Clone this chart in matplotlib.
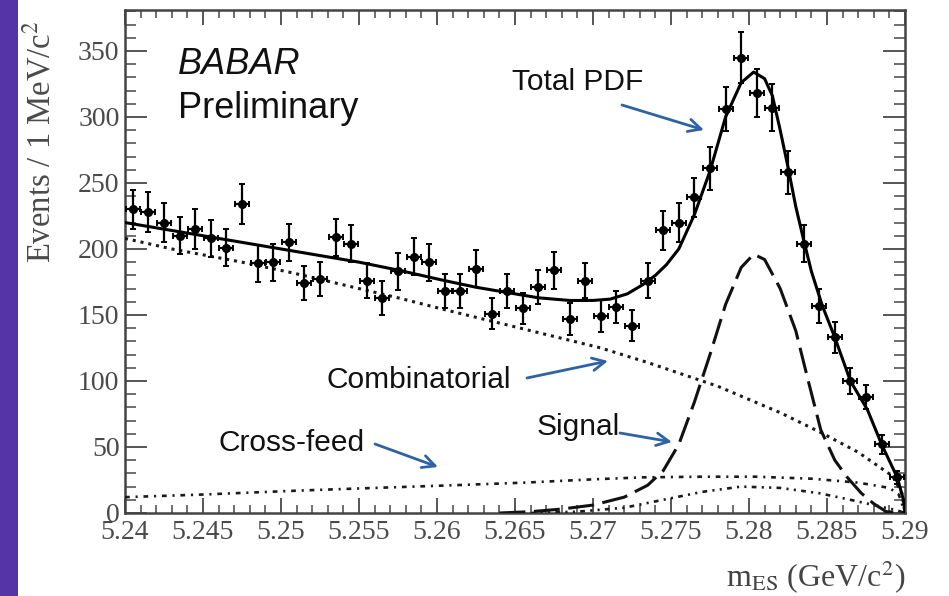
import numpy as np
import matplotlib
matplotlib.use("Agg")
import matplotlib.pyplot as plt
from matplotlib.ticker import MultipleLocator, FixedLocator

plt.rcParams['mathtext.fontset'] = 'stix'

# ---- data ----
bin_centers = [5.2405, 5.2415, 5.2425, 5.2435, 5.2445, 5.2455, 5.2465, 5.2475, 5.2485, 5.2495,
               5.2505, 5.2515, 5.2525, 5.2535, 5.2545, 5.2555, 5.2565, 5.2575, 5.2585, 5.2595,
               5.2605, 5.2615, 5.2625, 5.2635, 5.2645, 5.2655, 5.2665, 5.2675, 5.2685, 5.2695,
               5.2705, 5.2715, 5.2725, 5.2735, 5.2745, 5.2755, 5.2765, 5.2775, 5.2785, 5.2795,
               5.2805, 5.2815, 5.2825, 5.2835, 5.2845, 5.2855, 5.2865, 5.2875, 5.2885, 5.2895]
events = [230, 228, 220, 210, 215, 208, 201, 234, 189, 190,
          205, 174, 177, 209, 204, 176, 163, 183, 194, 190,
          168, 168, 185, 151, 168, 155, 171, 184, 147, 176,
          149, 156, 142, 176, 214, 220, 239, 261, 306, 345,
          318, 307, 258, 204, 157, 133, 100, 88, 52, 27]
event_errors = [15, 15, 15, 14, 15, 14, 14, 15, 14, 14,
                14, 13, 13, 14, 14, 13, 13, 14, 14, 14,
                13, 13, 14, 12, 13, 12, 13, 14, 12, 13,
                12, 12, 12, 13, 15, 15, 15, 16, 17, 19,
                18, 18, 16, 14, 13, 12, 10, 9, 7, 5]
bin_half_width = [0.00045] * 50

total_x = [5.2400, 5.2450, 5.2500, 5.2525, 5.2550, 5.2575, 5.2605, 5.2625, 5.2645, 5.2665,
           5.2685, 5.2700, 5.2711, 5.2722, 5.2732, 5.2740, 5.2747, 5.2755, 5.2765, 5.2775,
           5.2785, 5.2795, 5.2803, 5.2810, 5.2815, 5.2820, 5.2825, 5.2830, 5.2835, 5.2840,
           5.2847, 5.2855, 5.2865, 5.2876, 5.2885, 5.2895, 5.2899, 5.2900]
total_y = [220, 210, 200, 195, 190, 184, 176, 171, 167, 163,
           161, 161, 162, 166, 173, 180, 188, 200, 226, 259,
           300, 326, 334, 329, 316, 290, 262, 232, 207, 183,
           157, 133, 100, 78, 52, 27, 10, 0]

comb_x = [5.2400, 5.2430, 5.2475, 5.2507, 5.2525, 5.2575, 5.2605, 5.2650, 5.2705, 5.2735,
          5.2780, 5.2820, 5.2846, 5.2870, 5.2892, 5.2898, 5.2900]
comb_y = [208, 200, 190, 182, 177, 163, 154, 141, 125, 114,
          96, 76, 61, 46, 28, 15, 0]

sig_x = [5.2640, 5.2660, 5.2680, 5.2700, 5.2720, 5.2735, 5.2745, 5.2755, 5.2765, 5.2775,
         5.2785, 5.2795, 5.2803, 5.2810, 5.2820, 5.2830, 5.2838, 5.2846, 5.2855, 5.2863,
         5.2872, 5.2880, 5.2888, 5.2900]
sig_y = [0, 1, 3, 6, 12, 21, 32, 52, 84, 120,
         158, 186, 196, 192, 170, 138, 100, 63, 40, 27,
         15, 7, 1, 0]

cross_x = [5.2400, 5.2450, 5.2512, 5.2560, 5.2610, 5.2656, 5.2700, 5.2732, 5.2770, 5.2804,
           5.2840, 5.2870, 5.2890, 5.2896, 5.2900]
cross_y = [12, 14, 17, 19, 21, 23, 25.5, 27, 27.5, 27.5,
           26, 23, 19, 14, 0]

other_x = [5.2660, 5.2690, 5.2720, 5.2745, 5.2770, 5.2795, 5.2820, 5.2845, 5.2865, 5.2880,
           5.2895, 5.2900]
other_y = [0, 1, 4, 10, 16, 20, 19, 15, 10, 6,
           2, 0]

x_ticks = [5.24, 5.245, 5.25, 5.255, 5.26, 5.265, 5.27, 5.275, 5.28, 5.285, 5.29]
x_tick_labels = ['5.24', '5.245', '5.25', '5.255', '5.26', '5.265', '5.27', '5.275', '5.28', '5.285', '5.29']
y_ticks = [0, 50, 100, 150, 200, 250, 300, 350]

# ---- figure ----
W, H = 949, 596
fig = plt.figure(figsize=(W / 100, H / 100), dpi=100)
fig.patch.set_facecolor('white')

# purple strip at left
fig.patches.append(matplotlib.patches.Rectangle((0, 0), 18 / W, 1, transform=fig.transFigure,
                                                facecolor='#5434A6', edgecolor='none', zorder=0))

ax = fig.add_axes([125 / W, 1 - 513 / H, (905 - 125) / W, (513 - 10) / H])
ax.set_xlim(5.24, 5.29)
ax.set_ylim(0, 381)

ax.plot(total_x, total_y, color='black', lw=2.2, zorder=4)
ax.plot(comb_x, comb_y, color='#1a1a1a', lw=2.2, linestyle=(0, (1, 1.6)), zorder=3)
ax.plot(sig_x, sig_y, color='#111111', lw=2.2, linestyle=(0, (8.5, 2.8)), zorder=3)
ax.plot(cross_x, cross_y, color='#1a1a1a', lw=1.9, linestyle=(0, (1.8, 2.2, 0.8, 2.2)), zorder=3)
ax.plot(other_x, other_y, color='#1a1a1a', lw=1.9, linestyle=(0, (1.8, 2.0, 0.8, 2.0, 0.8, 2.0)), zorder=3)

ax.errorbar(bin_centers, events, yerr=event_errors, xerr=bin_half_width, fmt='o', color='black',
            ms=5.5, elinewidth=1.6, capsize=2.2, capthick=1.4, zorder=5)

# axes styling (ROOT-like)
for sp in ax.spines.values():
    sp.set_linewidth(1.8)
    sp.set_color('#444444')

ax.xaxis.set_major_locator(FixedLocator(x_ticks))
ax.set_xticklabels(x_tick_labels)
ax.xaxis.set_minor_locator(MultipleLocator(0.001))
ax.yaxis.set_major_locator(FixedLocator(y_ticks))
ax.yaxis.set_minor_locator(MultipleLocator(10))

serif = 'Liberation Serif'
ax.tick_params(axis='both', which='both', direction='in', top=True, right=True, color='#555555')
ax.tick_params(axis='x', which='major', length=11, width=1.4, pad=5, labelsize=20, labelcolor='#4a4a4a')
ax.tick_params(axis='x', which='minor', length=5.5, width=1.2)
ax.tick_params(axis='y', which='major', length=16, width=1.4, pad=4, labelsize=20, labelcolor='#4a4a4a')
ax.tick_params(axis='y', which='minor', length=8, width=1.2)
for lab in ax.get_xticklabels() + ax.get_yticklabels():
    lab.set_fontfamily(serif)

# axis titles
fig.text(905 / W, 1 - 577 / H, r'm$_{\mathrm{ES}}$ (GeV/c$^{2}$)', ha='right', va='center',
         fontsize=23, family=serif, color='#444444')
fig.text(41 / W, 1 - 142 / H, r'Events / 1 MeV/c$^{2}$', ha='center', va='center', rotation=90,
         fontsize=23.5, family=serif, color='#4a4a4a')

# annotations
sans = 'Liberation Sans'
fig.text(178 / W, 1 - 65 / H, 'BABAR', ha='left', va='center', fontsize=26, family=sans,
         style='italic', color='#111111')
fig.text(178 / W, 1 - 108 / H, 'Preliminary', ha='left', va='center', fontsize=26, family=sans,
         color='#111111')
fig.text(512 / W, 1 - 82 / H, 'Total PDF', ha='left', va='center', fontsize=21.5, family=sans, color='#111111')
fig.text(327 / W, 1 - 380 / H, 'Combinatorial', ha='left', va='center', fontsize=21.5, family=sans, color='#111111')
fig.text(218 / W, 1 - 443 / H, 'Cross-feed', ha='left', va='center', fontsize=21.5, family=sans, color='#111111')
fig.text(537 / W, 1 - 427 / H, 'Signal', ha='left', va='center', fontsize=21.5, family=sans, color='#111111')

arrow_color = '#2F62A4'
arrows = [((622, 105), (704, 130)),
          ((527, 378), (608, 361)),
          ((375, 444), (438, 467)),
          ((620, 433), (672, 442))]
for (x0, y0), (x1, y1) in arrows:
    fig.add_artist(matplotlib.patches.FancyArrowPatch(
        (x0 / W, 1 - y0 / H), (x1 / W, 1 - y1 / H), transform=fig.transFigure,
        arrowstyle='->,head_length=9,head_width=4.5', color=arrow_color, lw=2.0,
        shrinkA=0, shrinkB=0))

fig.savefig('out.png', dpi=100)
